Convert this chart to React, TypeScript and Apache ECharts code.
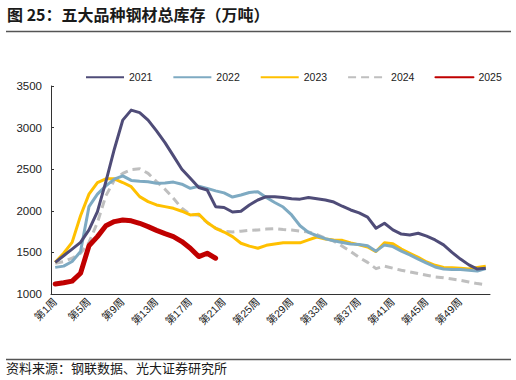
import React, { useEffect, useRef } from "react";
import * as echarts from "echarts";

const weeks: string[] = Array.from({ length: 52 }, (_, i) => `第${i + 1}周`);

const s2021 = [1380, 1460, 1540, 1620, 1770, 1990, 2350, 2740, 3090, 3210, 3180, 3090, 2960, 2820, 2660, 2500, 2390, 2280, 2250, 2050, 2040, 1985, 1995, 2070, 2130, 2170, 2170, 2160, 2145, 2140, 2160, 2145, 2130, 2105, 2055, 2010, 1975, 1925, 1790, 1850, 1770, 1720, 1710, 1730, 1695, 1650, 1590, 1500, 1420, 1350, 1300, 1310];
const s2022 = [1320, 1335, 1390, 1510, 2050, 2200, 2300, 2380, 2420, 2365, 2355, 2350, 2330, 2335, 2345, 2320, 2270, 2295, 2270, 2240, 2215, 2165, 2190, 2220, 2230, 2160, 2100, 2045, 1950, 1820, 1740, 1700, 1665, 1640, 1620, 1600, 1595, 1580, 1515, 1590, 1570, 1515, 1470, 1420, 1370, 1325, 1300, 1295, 1295, 1285, 1275, 1305];
const s2023 = [1380, 1490, 1620, 1940, 2200, 2340, 2385, 2385, 2340, 2290, 2170, 2110, 2070, 2050, 2030, 1995, 1950, 1960, 1860, 1790, 1745, 1690, 1610, 1575, 1550, 1585, 1600, 1615, 1615, 1615, 1650, 1685, 1660, 1650, 1645, 1615, 1590, 1565, 1510, 1615, 1605, 1540, 1490, 1440, 1385, 1345, 1320, 1315, 1310, 1300, 1320, 1335];
const s2024 = [1370, 1390, 1430, 1490, 1620, 1860, 2180, 2370, 2450, 2495, 2505, 2450, 2350, 2260, 2150, 2030, 1955, 1945, 1860, 1790, 1755, 1745, 1755, 1765, 1770, 1780, 1785, 1775, 1768, 1755, 1745, 1715, 1670, 1635, 1575, 1510, 1440, 1380, 1305, 1335, 1310, 1285, 1265, 1245, 1225, 1205, 1195, 1180, 1165, 1145, 1125, 1110];
const s2025 = [1120, 1135, 1155, 1250, 1580, 1690, 1820, 1870, 1890, 1880, 1850, 1810, 1765, 1725, 1690, 1630, 1550, 1450, 1490, 1430];

const seriesNames = ["2021", "2022", "2023", "2024", "2025"];
const seriesData = [s2021, s2022, s2023, s2024, s2025];
const seriesColors = ["#4F4C78", "#7EAAC2", "#FFC000", "#BFBFBF", "#C00000"];

const titleText = "图 25：五大品种钢材总库存（万吨）";
const sourceText = "资料来源：钢联数据、光大证券研究所";

const FONT = "'Liberation Sans', 'Noto Sans CJK SC', sans-serif";
const CJK = "'Noto Sans CJK SC', sans-serif";

export default function App() {
  const ref = useRef<HTMLDivElement>(null);
  useEffect(() => {
    document.body.style.margin = "0";
    if (!ref.current) return;
    const chart = echarts.init(ref.current, null, { renderer: "svg" });
    const series = seriesNames.map((name, i) => ({
      name,
      type: "line",
      data: seriesData[i],
      symbol: "none",
      smooth: false,
      z: i === 4 ? 10 : 5 - i,
      lineStyle: {
        color: seriesColors[i],
        width: i === 4 ? 5 : 3,
        type: i === 3 ? [8, 5] : "solid",
        cap: i === 4 ? "round" : "butt",
        join: "round",
      },
      itemStyle: { color: seriesColors[i] },
    }));
    chart.setOption({
      animation: false,
      backgroundColor: "#fff",
      textStyle: { fontFamily: FONT },
      graphic: [
        {
          type: "text",
          left: 7,
          top: 6,
          style: { text: titleText, font: `bold 16px ${CJK}`, fill: "#1a1a1a" },
        },
        {
          type: "line",
          shape: { x1: 6, y1: 31.5, x2: 511, y2: 31.5 },
          style: { stroke: "#555", lineWidth: 1.5 },
        },
        {
          type: "line",
          shape: { x1: 6, y1: 359.5, x2: 511, y2: 359.5 },
          style: { stroke: "#555", lineWidth: 1.5 },
        },
        {
          type: "text",
          left: 6,
          top: 361,
          style: { text: sourceText, font: `13px ${CJK}`, fill: "#1a1a1a" },
        },
      ],
      legend: {
        left: 85,
        top: 72,
        itemWidth: 38,
        itemHeight: 11,
        itemGap: 20,
        padding: 0,
        itemStyle: { opacity: 0 },
        textStyle: { fontSize: 10.5, color: "#222", fontFamily: FONT },
        data: seriesNames,
      },
      grid: { left: 51, right: 26, top: 86, bottom: 86 },
      xAxis: {
        type: "category",
        data: weeks,
        boundaryGap: true,
        axisLine: { lineStyle: { color: "#333", width: 1 } },
        axisTick: { interval: 3, inside: true, length: 4, lineStyle: { color: "#333" } },
        axisLabel: {
          interval: 3,
          rotate: 45,
          margin: 6,
          fontSize: 10.5,
          color: "#222",
          fontFamily: FONT,
        },
        splitLine: { show: false },
      },
      yAxis: {
        type: "value",
        min: 1000,
        max: 3500,
        interval: 500,
        axisLine: { show: true, lineStyle: { color: "#333", width: 1 } },
        axisTick: { show: true, inside: true, length: 3, lineStyle: { color: "#333" } },
        axisLabel: {
          fontSize: 11.5,
          color: "#222",
          margin: 9,
          fontFamily: FONT,
          formatter: (v: number) => String(v),
        },
        splitLine: { show: false },
      },
      series,
    });
    return () => chart.dispose();
  }, []);
  return <div ref={ref} style={{ width: 516, height: 380 }} />;
}
